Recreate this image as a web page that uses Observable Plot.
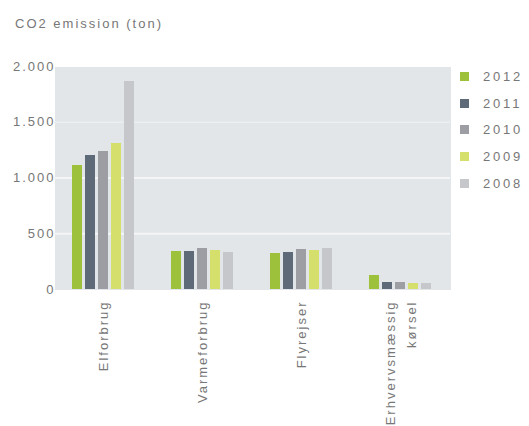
<!DOCTYPE html>
<html>
<head>
<meta charset="utf-8">
<script src="https://cdn.jsdelivr.net/npm/d3@7"></script>
<script src="https://cdn.jsdelivr.net/npm/@observablehq/plot@0.6"></script>
<style>
  body { margin: 0; background: #fff; font-family: "Liberation Sans", Arial, sans-serif; }
  #wrap { position: relative; width: 529px; height: 426px; overflow: hidden; }
  #title { position: absolute; left: 15px; top: 16px; font-size: 13px; letter-spacing: 2px; color: #777; }
  #chart { position: absolute; left: 0; top: 45px; }
  #legend { position: absolute; left: 460px; top: 69px; font-size: 13px; letter-spacing: 2.8px; color: #777; }
  .item { height: 26.7px; display: flex; align-items: flex-start; }
  .sw { width: 9px; height: 9px; margin-right: 14px; margin-top: 3px; }
  .co2 text { letter-spacing: 2px; }
  .co2 rect { shape-rendering: crispEdges; }
</style>
</head>
<body>
<div id="wrap">
  <div id="title">CO2 emission (ton)</div>
  <div id="chart"></div>
  <div id="legend"></div>
</div>
<script>
const categories = ["Elforbrug", "Varmeforbrug", "Flyrejser", "Erhvervsmæssig\nkørsel"];
const years = ["2012", "2011", "2010", "2009", "2008"];
const colors = ["#9dc13a", "#5e6a78", "#9c9ea3", "#d5e06c", "#c5c7ca"];
const v2012 = [1110, 340, 320, 130];
const v2011 = [1200, 345, 335, 60];
const v2010 = [1240, 370, 355, 60];
const v2009 = [1310, 350, 350, 55];
const v2008 = [1865, 335, 370, 55];
const yTicks = [0, 500, 1000, 1500, 2000];

const series = [v2012, v2011, v2010, v2009, v2008];
const data = [];
categories.forEach((c, i) => years.forEach((y, j) => data.push({cat: c, year: y, value: series[j][i]})));

const fmt = d3.formatLocale({thousands: ".", grouping: [3], decimal: ",", currency: ["", ""]}).format(",");

const plot = Plot.plot({
  className: "co2",
  width: 529,
  height: 381,
  marginLeft: 53,
  marginRight: 78,
  marginTop: 21,
  marginBottom: 137,
  style: {fontFamily: "Liberation Sans, Arial, sans-serif", fontSize: "13px", color: "#777", background: "transparent", overflow: "visible"},
  fx: {domain: categories, padding: 0, label: null},
  x: {domain: years, paddingInner: 0.2, paddingOuter: 1.3, axis: null},
  y: {domain: [0, 2000], ticks: yTicks, tickFormat: fmt, label: null},
  color: {domain: years, range: colors},
  marks: [
    Plot.frame({fill: "#e3e6e9", stroke: null}),
    Plot.ruleY([1500], {stroke: "#eceef0", strokeWidth: 1.5}),
    Plot.ruleY([500, 1000], {stroke: "#f4f5f6", strokeWidth: 2}),
    Plot.barY(data, {fx: "cat", x: "year", y: "value", fill: "year"}),
    Plot.axisY({ticks: yTicks, tickFormat: fmt, tickSize: 0, tickPadding: -1, label: null}),
    Plot.axisFx({anchor: "bottom", tickRotate: -90, tickSize: 0, tickPadding: 11, dx: -2, label: null, lineHeight: 1.55, textOverflow: null, lineWidth: Infinity})
  ]
});
document.getElementById("chart").appendChild(plot);

const lg = d3.select("#legend");
years.forEach((y, i) => {
  const it = lg.append("div").attr("class", "item");
  it.append("div").attr("class", "sw").style("background", colors[i]);
  it.append("span").text(y);
});
</script>
</body>
</html>
